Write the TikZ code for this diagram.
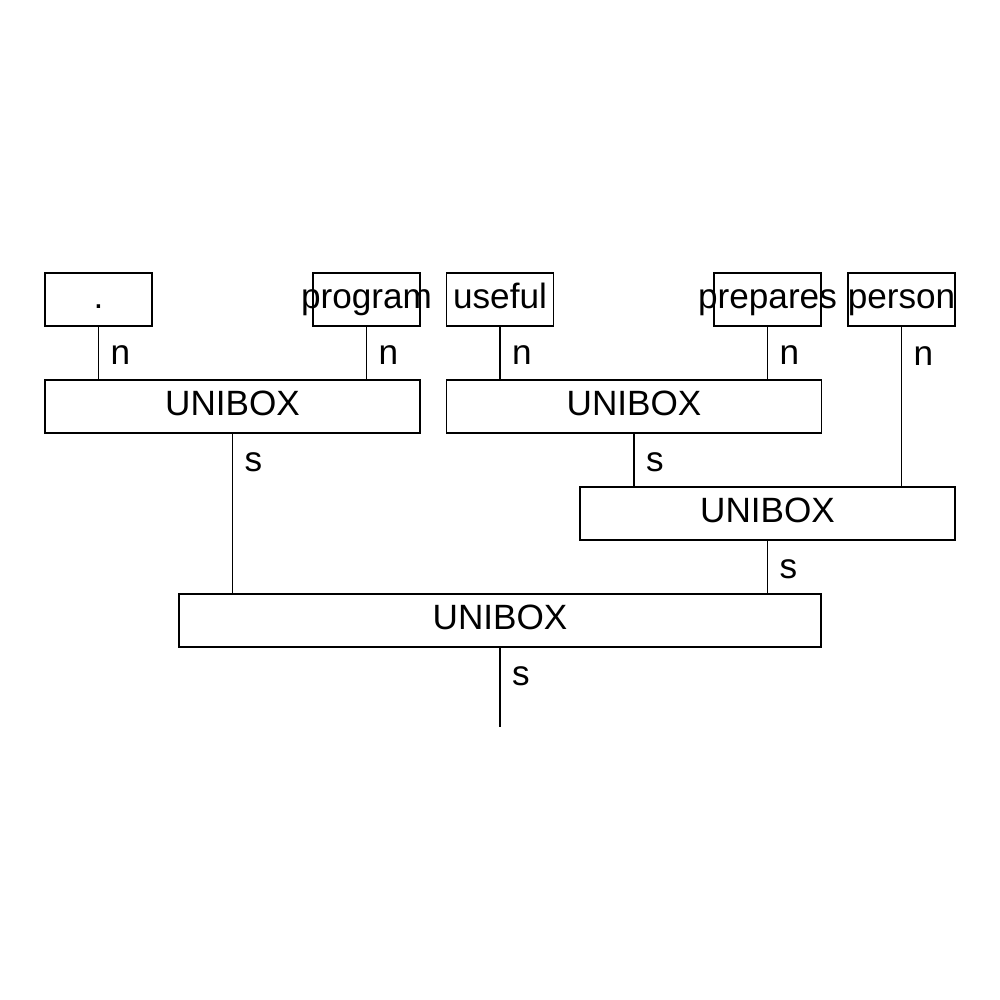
\documentclass[tikz,border=0pt]{standalone}
\usepackage{fontspec}
\setmainfont{Liberation Sans}
\usepackage{tikz}
\usetikzlibrary{calc}
\tikzset{
  wordbox/.style={
    draw, line width=0.35pt, inner sep=0pt, minimum width=1.07cm, minimum height=0.53cm,
    text height=0.75em, text depth=0.21em, font=\fontsize{10}{12}\selectfont
  },
  unibox/.style={
    draw, line width=0.35pt, inner sep=0pt, minimum width=3.75cm, minimum height=0.53cm,
    text height=0.75em, text depth=0.21em, font=\fontsize{10}{12}\selectfont
  },
  linkline/.style={line width=0.35pt},
  linklabel/.style={
    right, inner sep=3.3pt, yshift=-0.6pt, font=\fontsize{10}{12}\selectfont
  },
}
\newcommand{\wordtext}[1]{\makebox[0pt]{#1}}

\begin{document}
\begin{tikzpicture}
  \useasboundingbox (0,0) rectangle (10,10);

  % Words
  \node[wordbox] (wdot)      at (0.985,7.005) {\wordtext{.}};
  \node[wordbox] (wprogram)  at (3.665,7.005) {\wordtext{program}};
  \node[wordbox] (wuseful)   at (5.000,7.005) {\wordtext{useful}};
  \node[wordbox] (wprepares) at (7.675,7.005) {\wordtext{prepares}};
  \node[wordbox] (wperson)   at (9.015,7.005) {\wordtext{person}};

  % Unification boxes
  \node[unibox] (uleft)  at (2.325,5.935) {UNIBOX};
  \node[unibox] (umid)   at (6.340,5.935) {UNIBOX};
  \node[unibox] (uright) at (7.675,4.865) {UNIBOX};
  \node[unibox, minimum width=6.42cm] (uroot) at (5.000,3.795) {UNIBOX};
  \coordinate (root) at ($(uroot.south)+(0,-0.79)$);

  % Links
  \draw[linkline] (wdot.south) -- node[linklabel, midway] {n} (wdot.south |- uleft.north);
  \draw[linkline] (wprogram.south) -- node[linklabel, midway] {n} (wprogram.south |- uleft.north);
  \draw[linkline] (wuseful.south) -- node[linklabel, midway] {n} (wuseful.south |- umid.north);
  \draw[linkline] (wprepares.south) -- node[linklabel, midway] {n} (wprepares.south |- umid.north);
  \draw[linkline] (wperson.south) -- node[linklabel, pos=0.1685] {n} (wperson.south |- uright.north);
  \draw[linkline] (uleft.south) -- node[linklabel, pos=0.1685] {s} (uleft.south |- uroot.north);
  \draw[linkline] (umid.south) -- node[linklabel, midway] {s} (umid.south |- uright.north);
  \draw[linkline] (uright.south) -- node[linklabel, midway] {s} (uright.south |- uroot.north);
  \draw[linkline] (uroot.south) -- node[linklabel, pos=0.342] {s} (root);
\end{tikzpicture}
\end{document}
